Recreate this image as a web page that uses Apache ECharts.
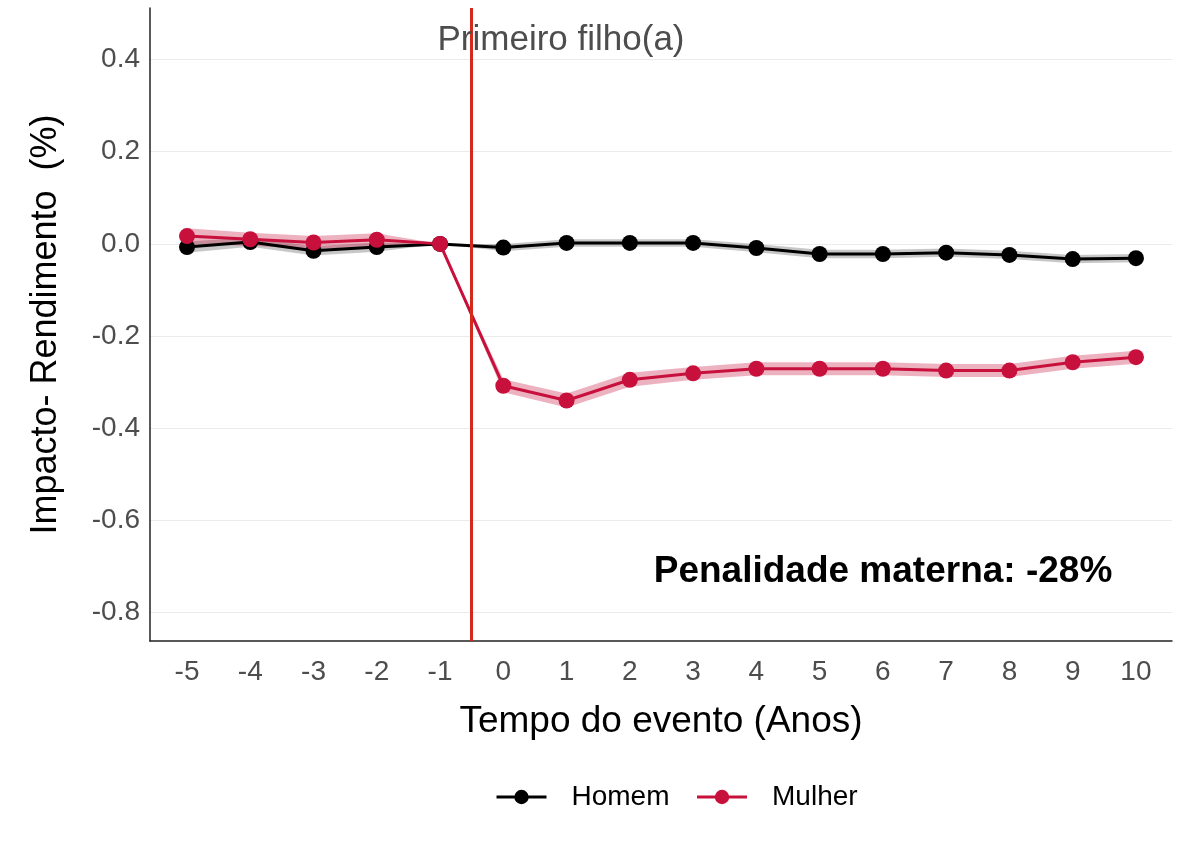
<!DOCTYPE html>
<html>
<head>
<meta charset="utf-8">
<script src="https://cdn.jsdelivr.net/npm/echarts@6/dist/echarts.min.js"></script>
<style>
html,body{margin:0;padding:0;background:#fff;}
#chart{width:1182px;height:844px;}
</style>
</head>
<body>
<div id="chart"></div>
<script>
var years = [-5,-4,-3,-2,-1,0,1,2,3,4,5,6,7,8,9,10];
var yTicks = [-0.8,-0.6,-0.4,-0.2,0,0.2,0.4];
var homem   = [-0.007, 0.004,-0.015,-0.007,0,-0.008,0.002,0.002,0.002,-0.009,-0.022,-0.022,-0.019,-0.024,-0.033,-0.031];
var homemLo = [-0.019,-0.006,-0.025,-0.017,0,-0.016,-0.006,-0.006,-0.006,-0.018,-0.031,-0.031,-0.028,-0.033,-0.042,-0.040];
var homemHi = [ 0.005, 0.014,-0.005, 0.003,0, 0.000,0.010,0.010,0.010, 0.000,-0.013,-0.013,-0.010,-0.015,-0.024,-0.022];
var mulher   = [0.017, 0.010, 0.003, 0.009,0,-0.308,-0.340,-0.295,-0.281,-0.271,-0.271,-0.271,-0.275,-0.275,-0.257,-0.246];
var mulherLo = [0.000,-0.004,-0.011,-0.005,0,-0.322,-0.355,-0.310,-0.295,-0.285,-0.285,-0.285,-0.289,-0.289,-0.271,-0.260];
var mulherHi = [0.034, 0.024, 0.017, 0.023,0,-0.294,-0.325,-0.280,-0.267,-0.257,-0.257,-0.257,-0.261,-0.261,-0.243,-0.232];
var eventX = -0.5;

function pairs(vals){ return years.map(function(x,i){ return [x, vals[i]]; }); }
function triples(lo, hi){ return years.map(function(x,i){ return [x, lo[i], hi[i]]; }); }

function bandRenderer(lo, hi, color){
  return function(params, api){
    if (params.dataIndex !== 0) return null;
    var pts = [];
    for (var i = 0; i < years.length; i++) pts.push(api.coord([years[i], hi[i]]));
    for (var j = years.length - 1; j >= 0; j--) pts.push(api.coord([years[j], lo[j]]));
    return {type: 'polygon', shape: {points: pts}, style: {fill: color}, silent: true};
  };
}

var FONT = '"Liberation Sans", Arial, sans-serif';
var chart = echarts.init(document.getElementById('chart'));
chart.setOption({
  backgroundColor: '#ffffff',
  animation: false,
  grid: {left: 150, right: 10, top: 8, bottom: 203, containLabel: false},
  xAxis: {
    type: 'value', min: -5.585, max: 10.57,
    name: 'Tempo do evento (Anos)', nameLocation: 'middle', nameGap: 62,
    nameTextStyle: {fontFamily: FONT, fontSize: 37, color: '#000'},
    axisLine: {show: true, onZero: false, lineStyle: {color: '#222', width: 1.5}},
    axisTick: {show: false, customValues: years},
    axisLabel: {customValues: years, margin: 17, fontFamily: FONT, fontSize: 28, color: '#4d4d4d'},
    splitLine: {show: false}
  },
  yAxis: {
    type: 'value', min: -0.862, max: 0.512,
    name: 'Impacto- Rendimento  (%)', nameLocation: 'middle', nameGap: 86,
    nameTextStyle: {fontFamily: FONT, fontSize: 36, color: '#000'},
    axisLine: {show: true, onZero: false, lineStyle: {color: '#222', width: 1.5}},
    axisTick: {show: false, customValues: yTicks},
    axisLabel: {customValues: yTicks, margin: 10, fontFamily: FONT, fontSize: 28, color: '#4d4d4d',
      formatter: function(v){ return v === 0 ? '0.0' : v.toFixed(1); }},
    splitLine: {show: true, lineStyle: {color: '#ebebeb', width: 1}}
  },
  legend: {
    data: ['Homem', 'Mulher'], bottom: 28, left: 490,
    itemWidth: 50, itemHeight: 18, itemGap: 26,
    lineStyle: {width: 3},
    textStyle: {fontFamily: FONT, fontSize: 28, color: '#000', padding: [0,0,0,20]}
  },
  series: [
    {name: 'hBand', type: 'custom', data: triples(homemLo, homemHi), encode: {x: 0, y: [1, 2]},
      renderItem: bandRenderer(homemLo, homemHi, 'rgba(0,0,0,0.22)'), silent: true, z: 1},
    {name: 'mBand', type: 'custom', data: triples(mulherLo, mulherHi), encode: {x: 0, y: [1, 2]},
      renderItem: bandRenderer(mulherLo, mulherHi, 'rgba(200,16,60,0.32)'), silent: true, z: 1},
    {name: 'Homem', type: 'line', data: pairs(homem), symbol: 'circle', symbolSize: 16,
      itemStyle: {color: '#000'}, lineStyle: {color: '#000', width: 3}, z: 3,
      markLine: {silent: true, symbol: 'none', label: {show: false},
        lineStyle: {color: '#d42a1c', width: 3, type: 'solid'},
        data: [{xAxis: eventX}]}},
    {name: 'Mulher', type: 'line', data: pairs(mulher), symbol: 'circle', symbolSize: 16,
      itemStyle: {color: '#c8103c'}, lineStyle: {color: '#c8103c', width: 3}, z: 4}
  ],
  graphic: [
    {type: 'text', x: 561, y: 40, z: 10,
      style: {text: 'Primeiro filho(a)', fontFamily: FONT, fontSize: 35, fill: '#4d4d4d', align: 'center', verticalAlign: 'middle'}},
    {type: 'text', x: 883, y: 572, z: 10,
      style: {text: 'Penalidade materna: -28%', fontFamily: FONT, fontSize: 37, fontWeight: 'bold', fill: '#000', align: 'center', verticalAlign: 'middle'}}
  ]
});
</script>
</body>
</html>
